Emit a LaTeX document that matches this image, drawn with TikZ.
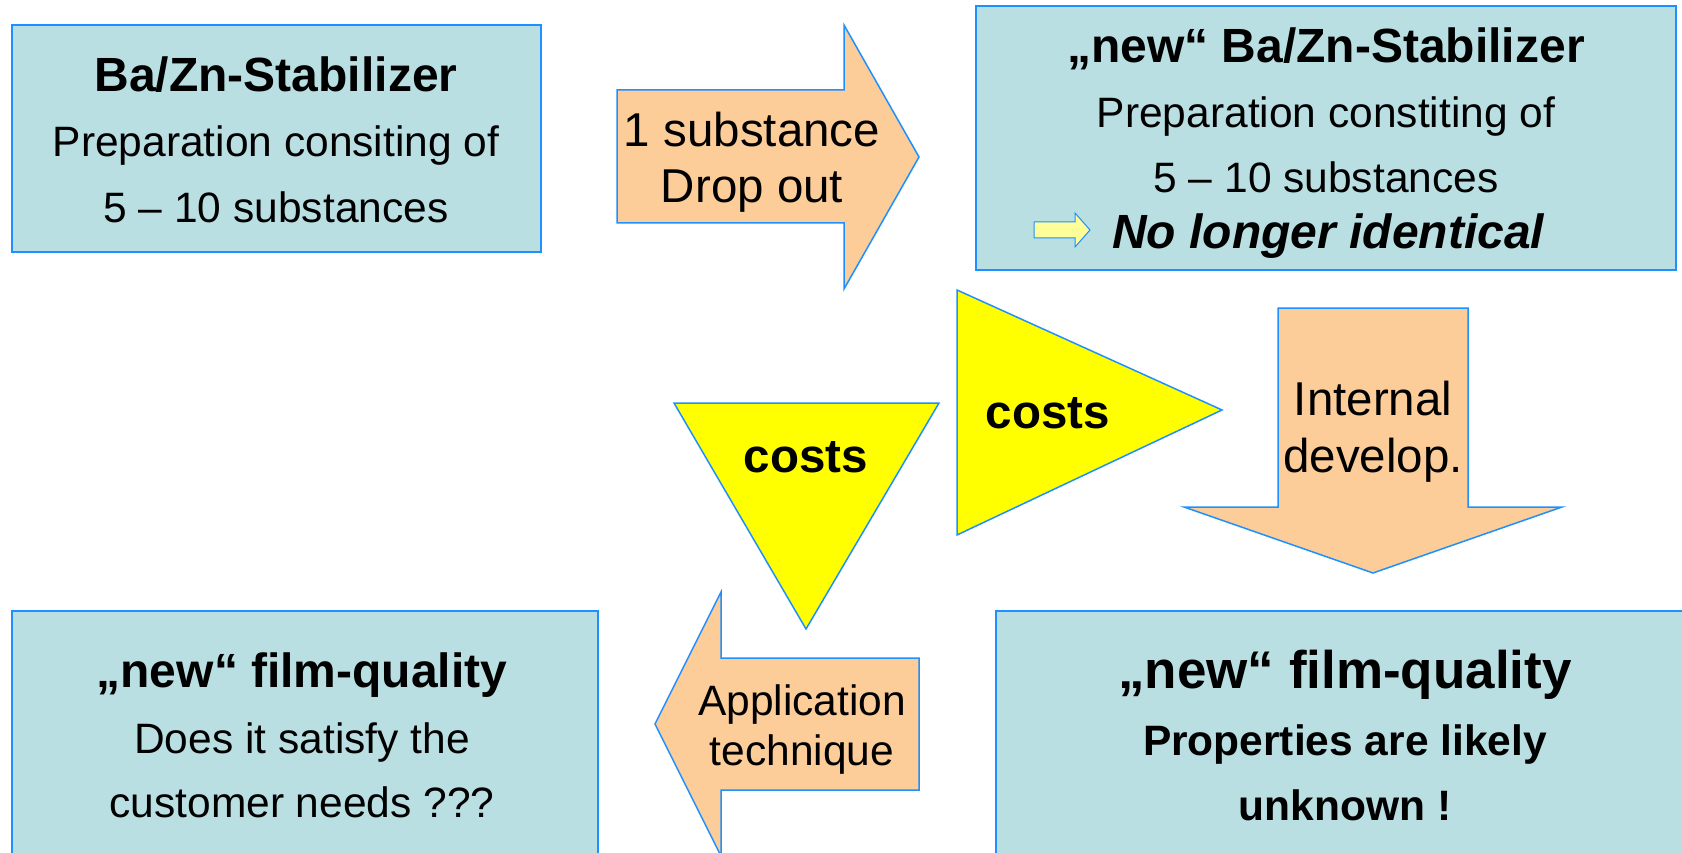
\documentclass[tikz,border=0pt]{standalone}
\usepackage{fontspec}
\setmainfont{Liberation Sans}
\definecolor{boxfill}{RGB}{185,223,227}
\definecolor{edgeblue}{RGB}{30,144,255}
\definecolor{arrowfill}{RGB}{252,204,153}
\definecolor{tipfill}{RGB}{255,255,153}
\definecolor{costyellow}{RGB}{255,255,0}

\begin{document}
\begin{tikzpicture}[x=1pt, y=-1pt, every node/.style={inner sep=0pt, anchor=base},
  box/.style={draw=edgeblue, line width=1.5pt, fill=boxfill, anchor=center},
  blockarrow/.style={draw=edgeblue, line width=1.5pt, fill=arrowfill},
  tri/.style={draw=edgeblue, line width=1.5pt, fill=costyellow},
  titletext/.style={font=\fontsize{48}{48}\selectfont\bfseries},
  linetext/.style={font=\fontsize{42.5}{42.5}\selectfont},
  arrowtext/.style={font=\fontsize{47.5}{47.5}\selectfont}]
  \useasboundingbox (0,0) rectangle (1682,853);
  \clip (0,0) rectangle (1682,853);
  \node[box, minimum width=529pt, minimum height=227pt] (stab) at (276.5,138.5) {};
  \node[box, minimum width=700pt, minimum height=264pt] (newstab) at (1326,138) {};
  \node[box, minimum width=586pt, minimum height=259pt] (custfilm) at (305,740.5) {};
  \node[box, minimum width=704pt, minimum height=259pt] (newfilm) at (1348,740.5) {};
  \draw[blockarrow] (617,90) -- (844,90) -- (844,25) -- (919,157) -- (844,289) -- (844,223) -- (617,223) -- cycle;
  \draw[blockarrow] (1278,308) -- (1468,308) -- (1468,507) -- (1562,507) -- (1373,573) -- (1184,507) -- (1278,507) -- cycle;
  \draw[blockarrow] (919,658) -- (721,658) -- (721,592) -- (655,724) -- (721,856) -- (721,790) -- (919,790) -- cycle;
  \draw[tri] (957,290) -- (1222,410) -- (957,535) -- cycle;
  \draw[tri] (674,403) -- (939,403) -- (806,629) -- cycle;
  \draw[draw=edgeblue, line width=1pt, fill=tipfill] (1034,222) -- (1075,222) -- (1075,213) -- (1090,230) -- (1075,247) -- (1075,238) -- (1034,238) -- cycle;
  \node[titletext] (stabtitle) at (276,92) {Ba/Zn-Stabilizer};
  \node[linetext] (stabprep) at (276,157) {Preparation consiting of};
  \node[linetext] (stabsubst) at (276,223) {5 – 10 substances};
  \node[titletext] (newstabtitle) at (1326,63) {„new“ Ba/Zn-Stabilizer};
  \node[linetext] (newstabprep) at (1326,128) {Preparation constiting of};
  \node[linetext] (newstabsubst) at (1326,193) {5 – 10 substances};
  \node[titletext, anchor=base west] (identical) at (1112,249) {\itshape No longer identical};
  \node[arrowtext] (dropa) at (752,147) {1 substance};
  \node[arrowtext] (dropb) at (752,203) {Drop out};
  \node[arrowtext, font=\fontsize{47.5}{47.5}\selectfont\bfseries] (costsa) at (1048,428) {costs};
  \node[arrowtext, font=\fontsize{47.5}{47.5}\selectfont\bfseries] (costsb) at (806,472) {costs};
  \node[arrowtext] (devela) at (1373,415) {Internal};
  \node[arrowtext] (develb) at (1373,472) {develop.};
  \node[linetext] (appla) at (802,715) {Application};
  \node[linetext] (applb) at (802,765) {technique};
  \node[titletext] (custtitle) at (302,687) {„new“ film-quality};
  \node[linetext] (custa) at (302,753) {Does it satisfy the};
  \node[linetext] (custb) at (302,817) {customer needs ???};
  \node[titletext, font=\fontsize{53}{53}\selectfont\bfseries] (newfilmtitle) at (1345,688) {„new“ film-quality};
  \node[linetext, font=\fontsize{42.5}{42.5}\selectfont\bfseries] (newfilma) at (1345,755) {Properties are likely};
  \node[linetext, font=\fontsize{42.5}{42.5}\selectfont\bfseries] (newfilmb) at (1345,820) {unknown !};
\end{tikzpicture}
\end{document}
